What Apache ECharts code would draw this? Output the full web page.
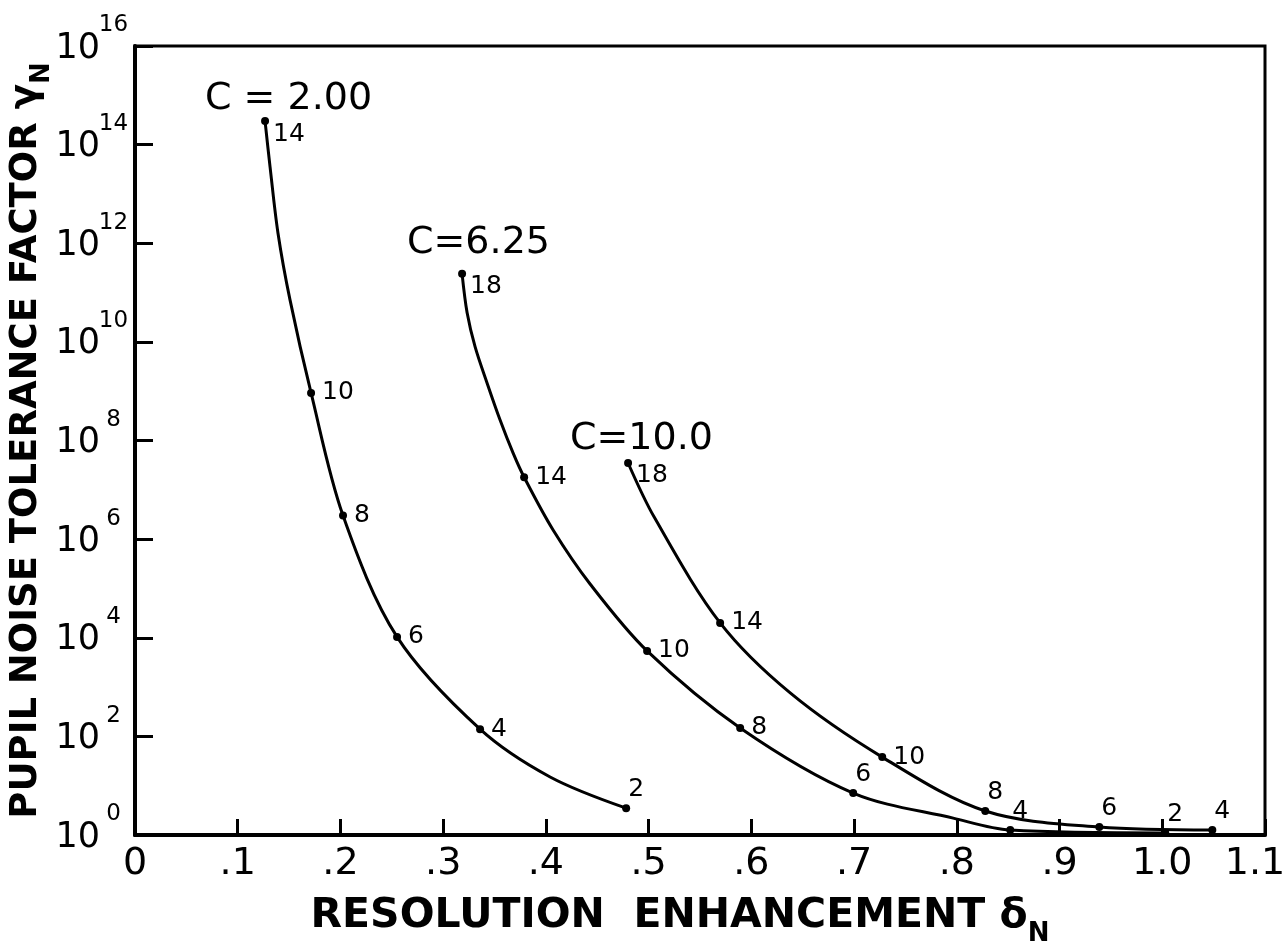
<!DOCTYPE html>
<html>
<head>
<meta charset="utf-8">
<title>Pupil noise tolerance factor</title>
<script src="https://cdn.jsdelivr.net/npm/echarts@6/dist/echarts.min.js"></script>
<style>
  html, body { margin: 0; padding: 0; background: #fff; }
  #chart { width: 1283px; height: 944px; }
</style>
</head>
<body>
<div id="chart"></div>
<script>
// tick labels
const xTickLabels = ['0', '.1', '.2', '.3', '.4', '.5', '.6', '.7', '.8', '.9', '1.0', '1.1']
const yTickExponents = [0, 2, 4, 6, 8, 10, 12, 14, 16]

const c2Delta = [0.1266, 0.1315, 0.1392, 0.1509, 0.1714, 0.2025, 0.2551, 0.3359, 0.4041, 0.4781]
const c2Gamma = [3.0e14, 3.5e13, 1.6e12, 7.1e10, 9.2e8, 3.0e6, 1.04e4, 1.4e2, 15, 3.5]
const c2N = [14, null, null, null, 10, 8, 6, 4, null, 2]

// C = 6.25 curve
const c625Delta = [0.3184, 0.3233, 0.3311, 0.3427, 0.3554, 0.3680, 0.3788, 0.4070, 0.4430, 0.4985, 0.5891, 0.6991, 0.7965, 0.8520, 1.0029]
const c625Gamma = [2.4e11, 3.9e10, 7.9e9, 1.47e9, 2.6e8, 5.6e7, 1.8e7, 1.53e6, 1.23e5, 5.4e3, 1.48e2, 7.1, 2.2, 1.26, 1.1]
const c625N = [18, null, null, null, null, null, 14, null, null, 10, 8, 6, null, 4, 2]

// C = 10.0 curve
const c10Delta = [0.4800, 0.5054, 0.5696, 0.6378, 0.7274, 0.8277, 0.9387, 1.0487]
const c10Gamma = [3.5e7, 2.8e6, 2.0e4, 7.6e2, 38, 3.07, 1.45, 1.26]
const c10N = [18, null, 14, null, 10, 8, 6, 4]

const curveNames = ['C = 2.00', 'C=6.25', 'C=10.0']

const FONT = 'DejaVu Sans'

const buildPoints = (delta, gamma, marks) =>
  delta.map((d, i) => {
    const n = marks[i]
    const item = { value: [d, gamma[i]] }
    if (n == null) {
      item.symbol = 'none'
      return item
    }
    item.symbol = 'circle'
    let label
    if (i === 0) {
      label = { position: 'right', distance: 4, offset: [0, 13] }
    } else if (gamma[i] >= 10) {
      label = { position: 'right', distance: 7 }
    } else {
      label = { position: 'top', distance: 2, offset: [10, 0] }
    }
    item.label = Object.assign({ show: true, formatter: String(n) }, label)
    return item
  })

const curveSeries = (name, delta, gamma, marks) => ({
  name,
  type: 'line',
  smooth: 0.33,
  symbolSize: 8,
  showAllSymbol: true,
  lineStyle: { color: '#000', width: 3 },
  itemStyle: { color: '#000' },
  label: { color: '#000', fontFamily: FONT, fontSize: 25 },
  data: buildPoints(delta, gamma, marks),
})

const titleRich = (size) => ({
  t: { fontFamily: FONT, fontSize: size, fontWeight: 'bold', color: '#000', verticalAlign: 'bottom', lineHeight: size + 5 },
  s: { fontFamily: FONT, fontSize: 26, fontWeight: 'bold', color: '#000', verticalAlign: 'bottom', padding: [0, 0, -10, 0] },
})

const chart = echarts.init(document.getElementById('chart'))
chart.setOption({
  animation: false,
  backgroundColor: '#fff',
  grid: {
    left: 135,
    top: 46,
    right: 18,
    bottom: 109,
    containLabel: false,
    outerBoundsMode: 'none',
    show: true,
    borderColor: '#000',
    borderWidth: 3,
  },
  xAxis: {
    type: 'value',
    min: 0,
    max: 1.1,
    interval: 0.1,
    name: '{t|RESOLUTION  ENHANCEMENT δ}{s|N}',
    nameLocation: 'middle',
    nameGap: 56,
    nameTextStyle: { padding: [0, 40, 0, 0], rich: titleRich(41) },
    axisLine: { lineStyle: { color: '#000', width: 4 } },
    axisTick: { inside: true, length: 16, lineStyle: { color: '#000', width: 3 } },
    splitLine: { show: false },
    axisLabel: {
      margin: 10,
      color: '#000',
      fontFamily: FONT,
      fontSize: 38,
      formatter: (v) => {
        const i = Math.round(v * 10)
        return i === xTickLabels.length - 1 ? '{r|' + xTickLabels[i] + '}' : xTickLabels[i]
      },
      rich: {
        r: { fontFamily: FONT, fontSize: 38, color: '#000', padding: [0, 20, 0, 0] },
      },
    },
  },
  yAxis: {
    type: 'log',
    logBase: 10,
    min: 1,
    max: 1e16,
    interval: 2,
    name: '{t|PUPIL NOISE TOLERANCE FACTOR γ}{s|N}',
    nameLocation: 'middle',
    nameGap: 90,
    nameMoveOverlap: false,
    nameTextStyle: { rich: titleRich(37) },
    axisLine: { lineStyle: { color: '#000', width: 4 } },
    axisTick: { inside: true, length: 18, lineStyle: { color: '#000', width: 3 } },
    splitLine: { show: false },
    axisLabel: {
      margin: 8,
      padding: [4, 0, 0, 0],
      formatter: (v) => {
        const e = Math.round(Math.log10(v))
        return yTickExponents.includes(e) ? '{b|10}{e|' + e + '}' : ''
      },
      rich: {
        b: { fontFamily: FONT, fontSize: 35, color: '#000', verticalAlign: 'bottom', lineHeight: 36 },
        e: { fontFamily: FONT, fontSize: 23, color: '#000', verticalAlign: 'bottom', lineHeight: 24, width: 27, align: 'left', padding: [0, 0, 29, 0] },
      },
    },
  },
  graphic: [
    { type: 'text', left: 205, top: 80, style: { text: curveNames[0], font: '38px "DejaVu Sans"', fill: '#000' } },
    { type: 'text', left: 407, top: 224, style: { text: curveNames[1], font: '38px "DejaVu Sans"', fill: '#000' } },
    { type: 'text', left: 570, top: 420, style: { text: curveNames[2], font: '38px "DejaVu Sans"', fill: '#000' } },
  ],
  series: [
    curveSeries(curveNames[0], c2Delta, c2Gamma, c2N),
    curveSeries(curveNames[1], c625Delta, c625Gamma, c625N),
    curveSeries(curveNames[2], c10Delta, c10Gamma, c10N),
  ],
})
</script>
</body>
</html>
